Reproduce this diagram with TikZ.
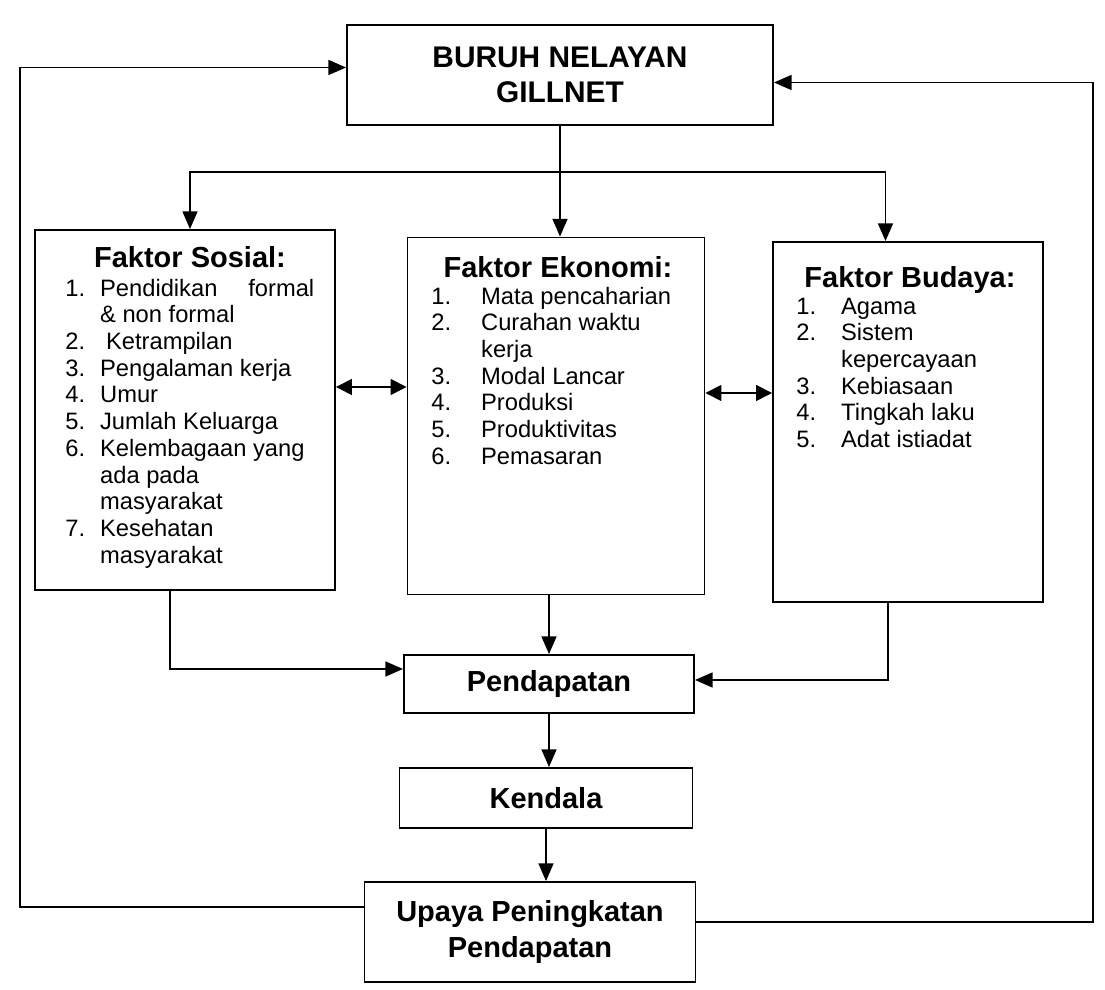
\documentclass[tikz,border=0pt]{standalone}
\usepackage{fontspec}
\setmainfont{Liberation Sans}
\usetikzlibrary{arrows.meta}

\begin{document}
\begin{tikzpicture}[
  kotak/.style={draw, line width=1.1pt, inner sep=0pt},
  judul/.style={font=\fontsize{16.5}{20}\selectfont\bfseries, align=center},
  daftar/.style={font=\fontsize{13.5}{15.2}\selectfont, inner sep=0pt, anchor=north west},
  panah/.style={-{Triangle[length=10pt,width=8.5pt]}, line width=0.9pt},
  dua/.style={{Triangle[length=9pt,width=9pt]}-{Triangle[length=9pt,width=9pt]}, line width=0.9pt}
]
\useasboundingbox (0,0) rectangle (22.1,19.8);

\node [kotak, judul, minimum width=8.52cm, minimum height=2cm, font=\fontsize{17}{20}\selectfont\bfseries] (buruh) at (11.2,18.3) {BURUH NELAYAN\\GILLNET};

\node [kotak, minimum width=6cm, minimum height=7.2cm] (sosial) at (3.7,11.6) {};
\node [kotak, minimum width=5.94cm, minimum height=7.14cm] (ekonomi) at (11.12,11.48) {};
\node [kotak, minimum width=5.4cm, minimum height=7.2cm] (budaya) at (18.16,11.36) {};

\node [judul] (sosialjudul) at (3.8,14.66) {Faktor Sosial:};
\node [judul] (ekonomijudul) at (11.16,14.46) {Faktor Ekonomi:};
\node [judul] (budayajudul) at (18.2,14.2) {Faktor Budaya:};

\node [daftar] (sosiallist) at (1.3,14.26) {\begin{tabular}{@{}l@{\hspace{0.3cm}}l@{}}
1. & Pendidikan\hspace{1.3em}formal\\
   & \& non formal\\
2. & \hspace{0.25em}Ketrampilan\\
3. & Pengalaman kerja\\
4. & Umur\\
5. & Jumlah Keluarga\\
6. & Kelembagaan yang\\
   & ada pada\\
   & masyarakat\\
7. & Kesehatan\\
   & masyarakat
\end{tabular}};

\node [daftar] (ekonomilist) at (8.62,14.1) {\begin{tabular}{@{}l@{\hspace{0.6cm}}l@{}}
1. & Mata pencaharian\\
2. & Curahan waktu\\
   & kerja\\
3. & Modal Lancar\\
4. & Produksi\\
5. & Produktivitas\\
6. & Pemasaran
\end{tabular}};

\node [daftar] (budayalist) at (15.92,13.9) {\begin{tabular}{@{}l@{\hspace{0.5cm}}l@{}}
1. & Agama\\
2. & Sistem\\
   & kepercayaan\\
3. & Kebiasaan\\
4. & Tingkah laku\\
5. & Adat istiadat
\end{tabular}};

\node [kotak, judul, minimum width=5.8cm, minimum height=1.16cm] (pendapatan) at (10.98,6.12) {Pendapatan};
\node [kotak, judul, minimum width=5.86cm, minimum height=1.2cm] (kendala) at (10.92,3.84) {Kendala};
\node [kotak, judul, minimum width=6.62cm, minimum height=2cm] (upaya) at (10.6,1.16) {Upaya Peningkatan\\Pendapatan};

\coordinate (cabang) at (11.2,16.36);
\coordinate (kiri) at (0.4,10);
\coordinate (kanan) at (21.86,10);

\draw [panah] (buruh.south) -- (buruh.south |- ekonomi.north);
\draw [panah] (cabang) -| ([xshift=0.1cm]sosial.north);
\draw [panah] (cabang) -| ([xshift=-0.45cm]budaya.north);

\draw [dua] ([yshift=0.46cm]sosial.east) -- ([yshift=0.46cm]sosial.east -| ekonomi.west);
\draw [dua] ([yshift=0.46cm]ekonomi.east) -- ([yshift=0.46cm]ekonomi.east -| budaya.west);

\draw [panah] ([xshift=-0.3cm]sosial.south) |- ([yshift=0.3cm]pendapatan.west);
\draw [panah] (pendapatan.north |- ekonomi.south) -- (pendapatan.north);
\draw [panah] ([xshift=-0.4cm]budaya.south) |- ([yshift=0.08cm]pendapatan.east);

\draw [panah] (pendapatan.south) -- (pendapatan.south |- kendala.north);
\draw [panah] (kendala.south) -- (kendala.south |- upaya.north);

\draw [panah] ([yshift=0.5cm]upaya.west) -| (kiri) |- ([yshift=0.15cm]buruh.west);
\draw [panah] ([yshift=0.2cm]upaya.east) -| (kanan) |- ([yshift=-0.15cm]buruh.east);
\end{tikzpicture}
\end{document}
